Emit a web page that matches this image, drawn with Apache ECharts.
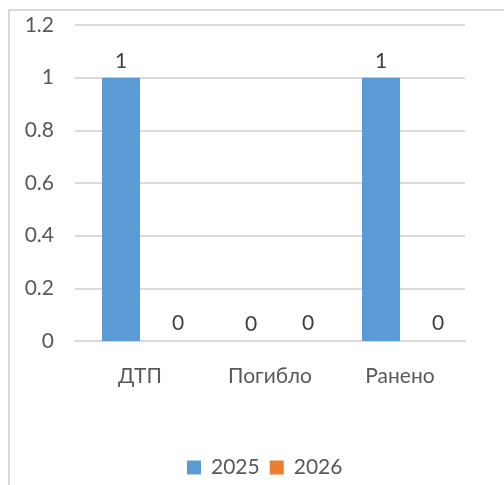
<!DOCTYPE html>
<html><head><meta charset="utf-8">
<script src="https://cdn.jsdelivr.net/npm/echarts@6/dist/echarts.min.js"></script>
<style>html,body{margin:0;padding:0;background:#fff}#c{width:504px;height:485px}</style>
</head><body><div id="c"></div>
<script>
var categories = ['ДТП', 'Погибло', 'Ранено'];
var series2025 = [1, 0, 1];
var series2026 = [0, 0, 0];
var yTicks = [0, 0.2, 0.4, 0.6, 0.8, 1, 1.2];

var chart = echarts.init(document.getElementById('c'));
var font = 21;
chart.setOption({
  animation: false,
  textStyle: {fontFamily: 'Lato'},
  graphic: [{type: 'rect', shape: {x: 9, y: 10, width: 700, height: 700}, style: {fill: 'none', stroke: '#d9d9d9', lineWidth: 2}}],
  grid: {left: 75, right: 39, top: 25, bottom: 144},
  legend: {
    top: 452, left: 182, itemWidth: 14, itemHeight: 14, itemGap: 10, icon: 'rect',
    textStyle: {color: '#595959', fontSize: font, fontFamily: 'Lato', padding: [0, 0, 0, 5]},
    data: ['2025', '2026']
  },
  xAxis: {
    type: 'category', data: categories,
    axisLine: {lineStyle: {color: '#d9d9d9', width: 2}},
    axisTick: {show: false},
    axisLabel: {color: '#595959', fontSize: font, fontFamily: 'Lato', margin: 25}
  },
  yAxis: {
    type: 'value', min: 0, max: 1.2, interval: 0.2,
    axisLine: {show: false}, axisTick: {show: false},
    splitLine: {lineStyle: {color: '#d9d9d9', width: 2}},
    axisLabel: {color: '#595959', fontSize: font, fontFamily: 'Lato', margin: 21,
      formatter: function (v) { var r = Math.round(v * 10) / 10; return yTicks.indexOf(r) >= 0 ? String(r) : ''; }}
  },
  series: [
    {name: '2025', type: 'bar', data: series2025, barWidth: 38, barGap: '0%', itemStyle: {color: '#5B9BD5'},
     label: {show: true, position: 'top', color: '#404040', fontFamily: 'Lato', fontSize: font, distance: 6}},
    {name: '2026', type: 'bar', data: series2026, barWidth: 38, itemStyle: {color: '#ED7D31'},
     label: {show: true, position: 'top', color: '#404040', fontFamily: 'Lato', fontSize: font, distance: 7, offset: [19, 0]}}
  ]
});
</script></body></html>
